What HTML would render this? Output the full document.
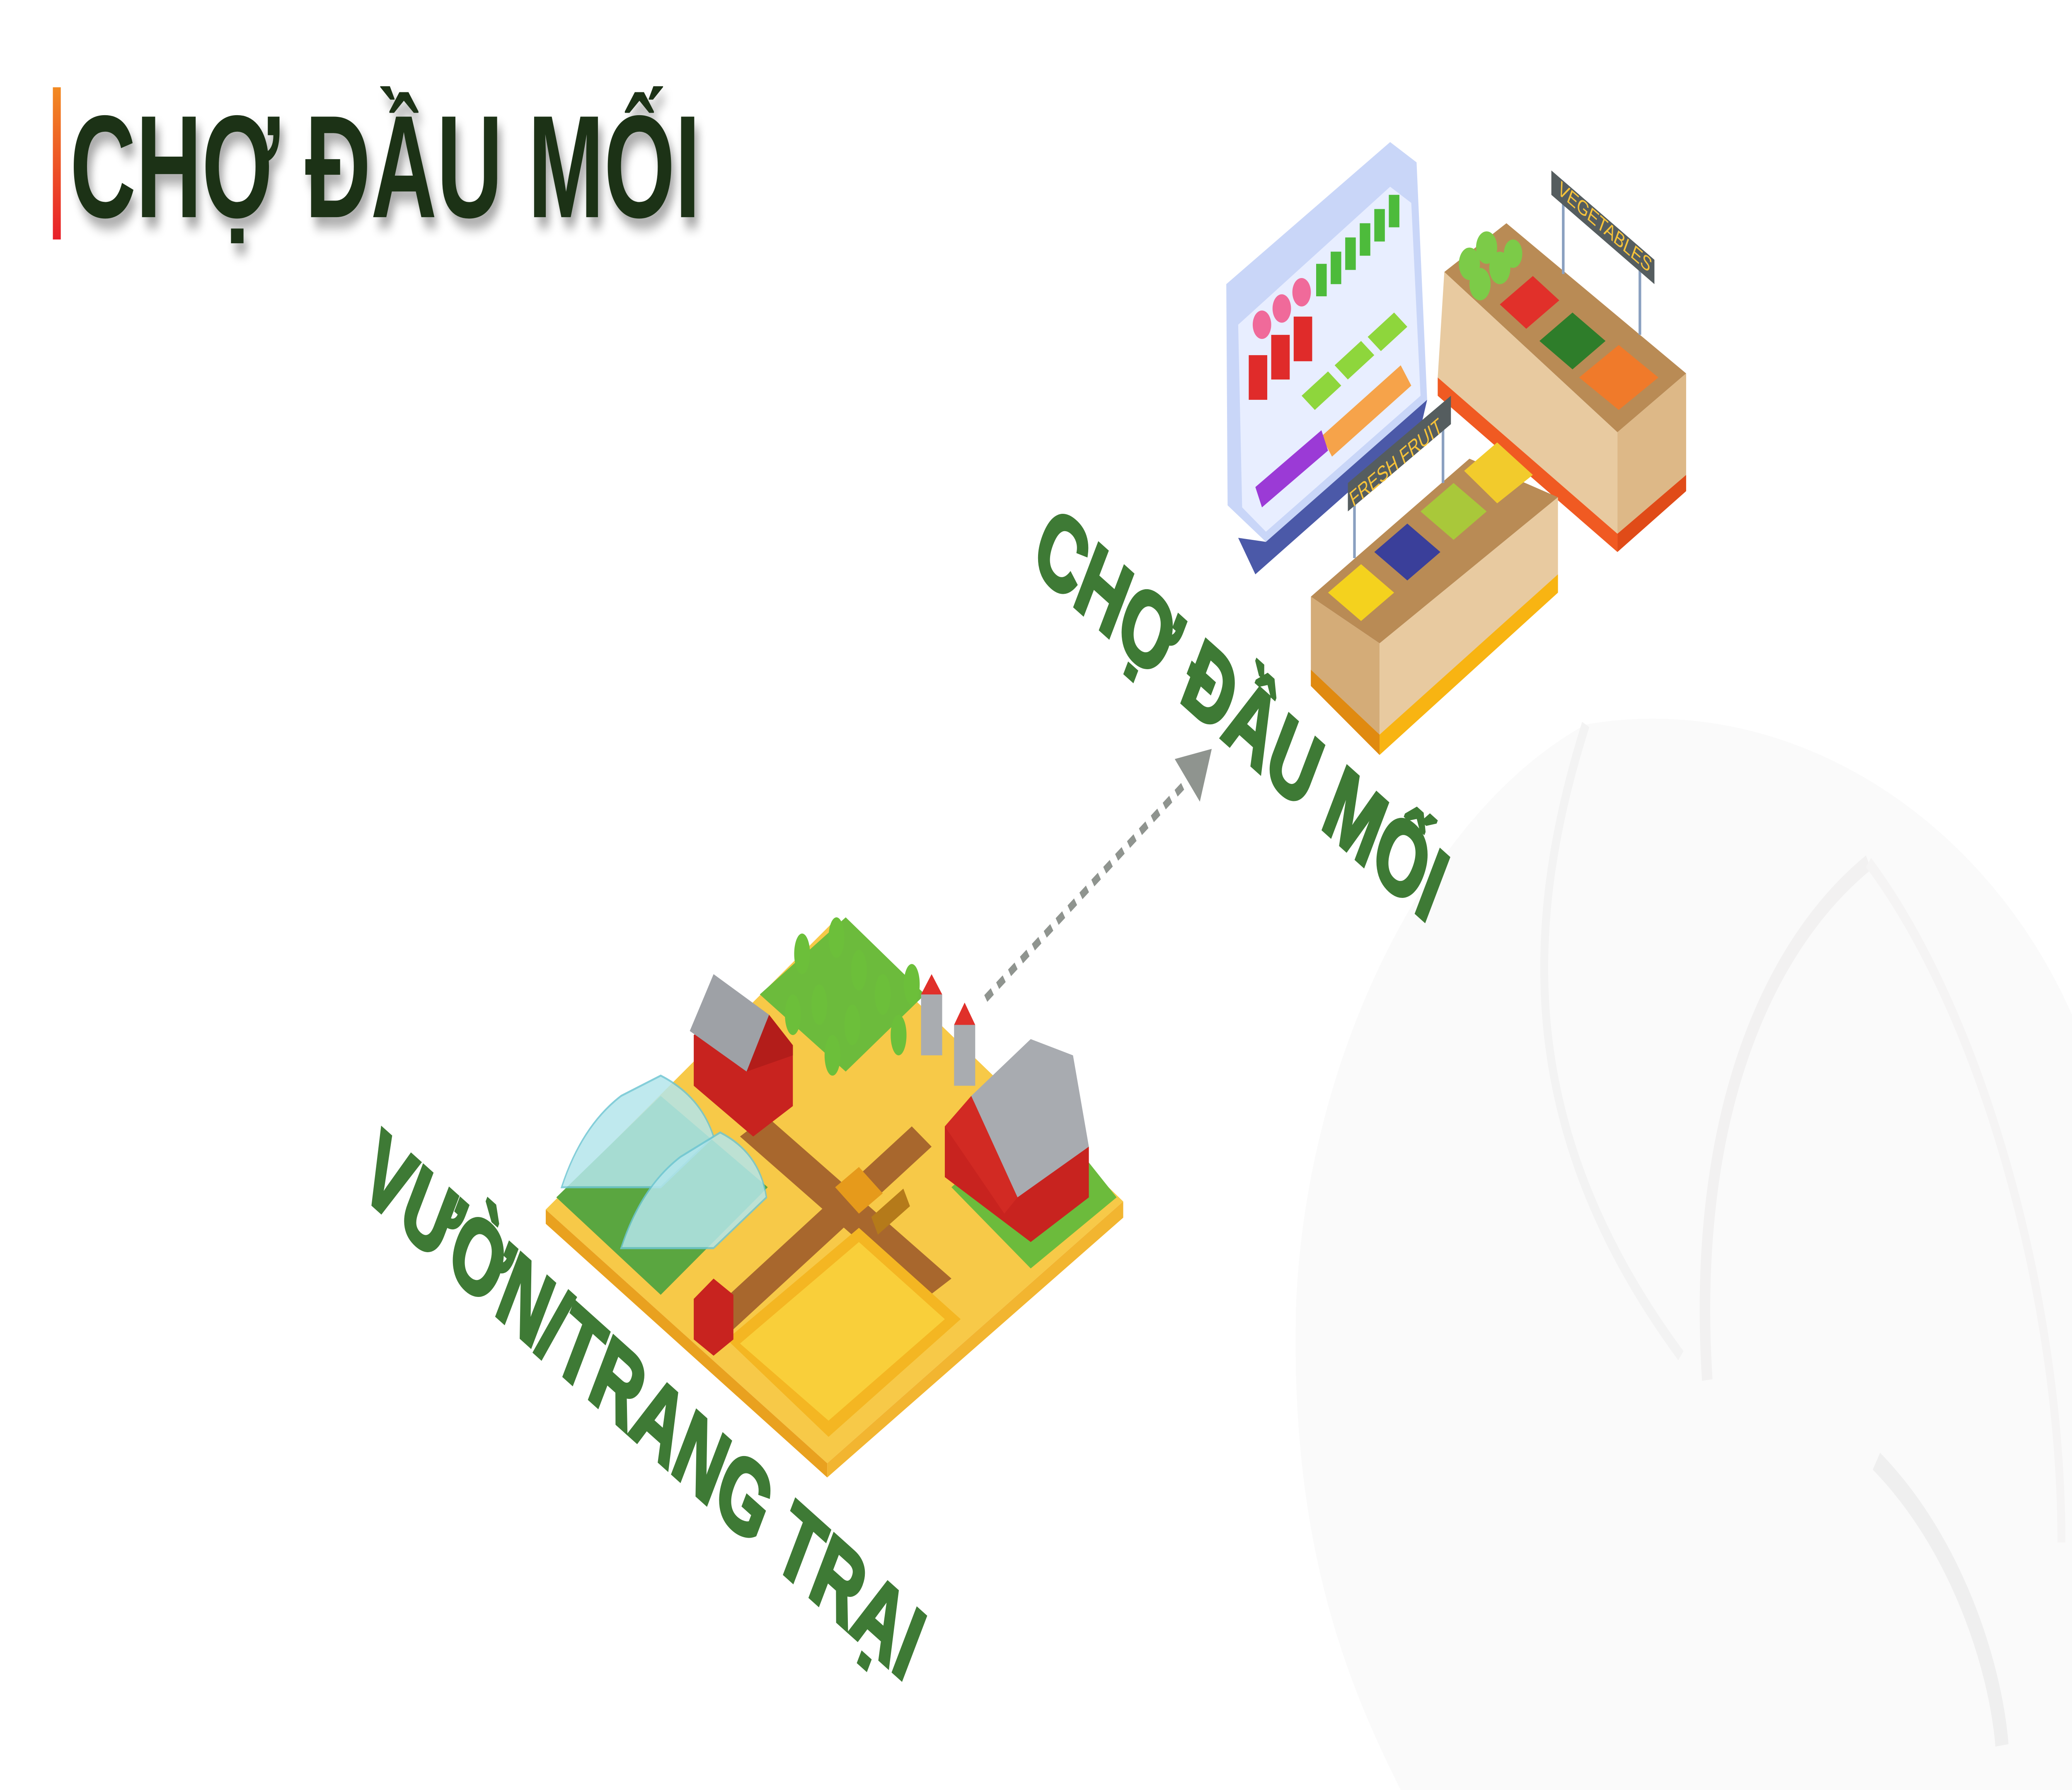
<!DOCTYPE html>
<html><head><meta charset="utf-8"><style>
html,body{margin:0;padding:0;background:#fff;overflow:hidden;}
svg{display:block;width:100vw;height:100vh;}
</style></head><body>
<svg viewBox="0 0 1568 882" preserveAspectRatio="none" xmlns="http://www.w3.org/2000/svg">
<defs>
<linearGradient id="bar" x1="0" y1="0" x2="0" y2="1"><stop offset="0" stop-color="#f28a22"/><stop offset="1" stop-color="#e8202a"/></linearGradient>
<filter id="sh" x="-10%" y="-10%" width="130%" height="140%"><feGaussianBlur in="SourceAlpha" stdDeviation="3"/><feOffset dx="3" dy="5"/><feComponentTransfer><feFuncA type="linear" slope="0.35"/></feComponentTransfer><feMerge><feMergeNode/><feMergeNode in="SourceGraphic"/></feMerge></filter>
</defs>
<rect width="1568" height="882" fill="#fff"/>
<path d="M1200,357 C1080,400 990,520 981,640 C975,760 1020,830 1060,882 L1568,882 L1568,500 C1500,400 1350,340 1200,357 Z" fill="#fafafa"/>
<path d="M1200,357 C1150,460 1150,560 1272,668" fill="none" stroke="#f3f3f3" stroke-width="6"/>
<path d="M1414,425 C1330,470 1280,560 1292,680" fill="none" stroke="#f2f1f1" stroke-width="8"/>
<path d="M1414,425 C1500,500 1560,640 1560,760" fill="none" stroke="#f5f4f4" stroke-width="6"/>
<path d="M1420,720 C1480,760 1510,820 1515,860" fill="none" stroke="#efefef" stroke-width="10"/>

<rect x="40" y="43" width="6" height="75" fill="url(#bar)"/>
<text x="53" y="107" font-family="Liberation Sans, sans-serif" font-weight="bold" font-size="72" fill="#1e3319" textLength="477" lengthAdjust="spacingAndGlyphs" filter="url(#sh)">CHỢ ĐẦU MỐI</text>

<g>
<polygon points="413,596 631,454 850,592 626,721" fill="#f7c948"/>
<polygon points="413,596 626,721 626,728 413,603" fill="#e9a11f"/>
<polygon points="626,721 850,592 850,600 626,728" fill="#f2b530"/>
<polygon points="560,560 700,640 720,630 580,550" fill="#a8672d"/>
<polygon points="540,645 690,555 705,565 555,655" fill="#a8672d"/>
<polygon points="575,490 640,452 700,490 640,528" fill="#6cbb3c"/>
<polygon points="720,585 790,545 845,590 780,625" fill="#6cbb3c"/>
<polygon points="550,660 650,605 727,650 627,708" fill="#f4b622"/>
<polygon points="560,662 650,612 715,650 627,700" fill="#f9cf3a"/>
<polygon points="421,590 500,540 581,585 500,638" fill="#5aa640"/>
<path d="M425,585 Q440,555 470,540 L500,530 Q530,540 540,560 L500,585 Z" fill="#b4e6ec" stroke="#6fc6d3" stroke-width="1" opacity="0.85"/>
<path d="M470,615 Q485,585 515,570 L545,558 Q575,568 580,590 L540,615 Z" fill="#b4e6ec" stroke="#6fc6d3" stroke-width="1" opacity="0.85"/>
<polygon points="525,640 540,630 555,638 555,660 540,668 525,660" fill="#c8231f"/>
<g fill="#6cbf3a">
<ellipse cx="607" cy="470" rx="6" ry="10"/><ellipse cx="633" cy="462" rx="6" ry="10"/><ellipse cx="650" cy="478" rx="6" ry="10"/>
<ellipse cx="620" cy="495" rx="6" ry="10"/><ellipse cx="645" cy="505" rx="6" ry="10"/><ellipse cx="668" cy="490" rx="6" ry="10"/>
<ellipse cx="680" cy="510" rx="6" ry="10"/><ellipse cx="630" cy="520" rx="6" ry="10"/><ellipse cx="600" cy="500" rx="6" ry="10"/><ellipse cx="690" cy="485" rx="6" ry="10"/>
</g>
<polygon points="525,510 560,492 600,515 600,545 570,560 525,535" fill="#c8231f"/>
<polygon points="522,508 540,480 582,500 565,528" fill="#9ea1a6"/>
<polygon points="565,528 582,500 600,515 600,520" fill="#b31d1a"/>
<rect x="697" y="490" width="16" height="30" fill="#a9acb0"/><polygon points="697,490 705,480 713,490" fill="#e0302a"/>
<rect x="722" y="505" width="16" height="30" fill="#a9acb0"/><polygon points="722,505 730,494 738,505" fill="#e0302a"/>
<polygon points="715,555 760,530 824,565 824,590 780,612 715,580" fill="#c8231f"/>
<polygon points="735,540 780,512 812,520 824,565 770,590" fill="#a8abb0"/>
<polygon points="715,555 735,540 770,590 760,598" fill="#d22a23"/>
<polygon points="632,585 650,575 668,588 650,598" fill="#e69a1b"/>
<rect x="660" y="592" width="28" height="10" fill="#b57a1a" transform="rotate(-30 674 597)"/>
</g>

<line x1="746" y1="492" x2="897" y2="386" stroke="#8f948f" stroke-width="4" stroke-dasharray="6,5"/>
<polygon points="917,369 889,374 908,395" fill="#8f948f"/>

<polygon points="928,140 1052,70 1072,80 1080,197 958,267 929,249" fill="#c9d6f8"/>
<polygon points="937,160 1052,92 1068,100 1075,195 958,262 940,250" fill="#e8eeff"/>
<polygon points="937,265 958,267 1080,197 1075,211 950,283" fill="#4b59a8"/>
<g fill="#f06a9a"><circle cx="955" cy="160" r="7"/><circle cx="970" cy="152" r="7"/><circle cx="985" cy="144" r="7"/></g>
<g fill="#4dbb3b"><rect x="996" y="130" width="8" height="16"/><rect x="1007" y="124" width="8" height="16"/><rect x="1018" y="117" width="8" height="16"/><rect x="1029" y="110" width="8" height="16"/><rect x="1040" y="103" width="8" height="16"/><rect x="1051" y="96" width="8" height="16"/></g>
<g fill="#e02b2a"><rect x="945" y="175" width="14" height="22"/><rect x="962" y="165" width="14" height="22"/><rect x="979" y="156" width="14" height="22"/></g>
<g fill="#8ed63c"><polygon points="985,195 1005,183 1015,190 995,202"/><polygon points="1010,180 1030,168 1040,175 1020,187"/><polygon points="1035,166 1055,154 1065,161 1045,173"/></g>
<polygon points="1000,215 1060,180 1068,190 1008,225" fill="#f6a34a"/>
<polygon points="950,240 1000,212 1005,222 955,250" fill="#9b3ad6"/>
<polygon points="1093,134 1140,110 1276,184 1224,213" fill="#b98b55"/>
<polygon points="1093,134 1224,213 1224,263 1088,186" fill="#e8caa0"/>
<polygon points="1224,213 1276,184 1276,234 1224,263" fill="#ddb887"/>
<polygon points="1088,186 1224,263 1224,272 1088,195" fill="#f05a22"/>
<polygon points="1224,263 1276,234 1276,242 1224,272" fill="#e04b18"/>
<g fill="#7ccb48"><circle cx="1112" cy="130" r="8"/><circle cx="1125" cy="122" r="8"/><circle cx="1135" cy="132" r="8"/><circle cx="1120" cy="140" r="8"/><circle cx="1145" cy="125" r="7"/></g>
<polygon points="1135,150 1160,136 1180,148 1155,162" fill="#e1302a"/>
<polygon points="1165,168 1190,154 1215,168 1190,182" fill="#2e7d2a"/>
<polygon points="1195,186 1225,170 1255,186 1225,202" fill="#f07a2a"/>
<line x1="1183" y1="95" x2="1183" y2="135" stroke="#8aa0c0" stroke-width="2"/><line x1="1241" y1="126" x2="1241" y2="165" stroke="#8aa0c0" stroke-width="2"/>
<polygon points="1174,84 1252,128 1252,140 1174,96" fill="#555d5f"/>
<text x="0" y="0" transform="translate(1178,95) rotate(29.5)" font-family="Liberation Sans, sans-serif" font-size="10" fill="#f5c23a" textLength="80" lengthAdjust="spacingAndGlyphs">VEGETABLES</text>
<polygon points="992,294 1112,226 1179,245 1044,317" fill="#b98b55"/>
<polygon points="992,294 1044,317 1044,372 992,338" fill="#d4ac78"/>
<polygon points="1044,317 1179,245 1179,292 1044,372" fill="#e8caa0"/>
<polygon points="992,330 1044,362 1044,372 992,338" fill="#e08a10"/>
<polygon points="1044,362 1179,283 1179,292 1044,372" fill="#f8b412"/>
<polygon points="1005,292 1030,278 1055,292 1030,306" fill="#f4d21e"/>
<polygon points="1040,272 1065,258 1090,272 1065,286" fill="#3a3f9a"/>
<polygon points="1075,252 1100,238 1125,252 1100,266" fill="#a9c83a"/>
<polygon points="1108,232 1133,218 1160,234 1133,248" fill="#f2cb2c"/>
<line x1="1025" y1="245" x2="1025" y2="275" stroke="#8aa0c0" stroke-width="2"/><line x1="1092" y1="205" x2="1092" y2="238" stroke="#8aa0c0" stroke-width="2"/>
<polygon points="1020,238 1098,195 1098,209 1020,252" fill="#555d5f"/>
<text x="0" y="0" transform="translate(1024,250) rotate(-29)" font-family="Liberation Sans, sans-serif" font-size="11" fill="#f5c23a" textLength="78" lengthAdjust="spacingAndGlyphs">FRESH FRUIT</text>

<text x="0" y="0" transform="translate(478,708) rotate(30.3)" text-anchor="middle" font-family="Liberation Sans, sans-serif" font-weight="bold" font-size="52" fill="#3e7a35" stroke="#3e7a35" stroke-width="2" textLength="480" lengthAdjust="spacingAndGlyphs">VƯỜN/TRANG TRẠI</text>
<text x="0" y="0" transform="translate(930,367) rotate(30.3)" text-anchor="middle" font-family="Liberation Sans, sans-serif" font-weight="bold" font-size="52" fill="#3e7a35" stroke="#3e7a35" stroke-width="2" textLength="350" lengthAdjust="spacingAndGlyphs">CHỢ ĐẦU MỐI</text>
</svg>
</body></html>
